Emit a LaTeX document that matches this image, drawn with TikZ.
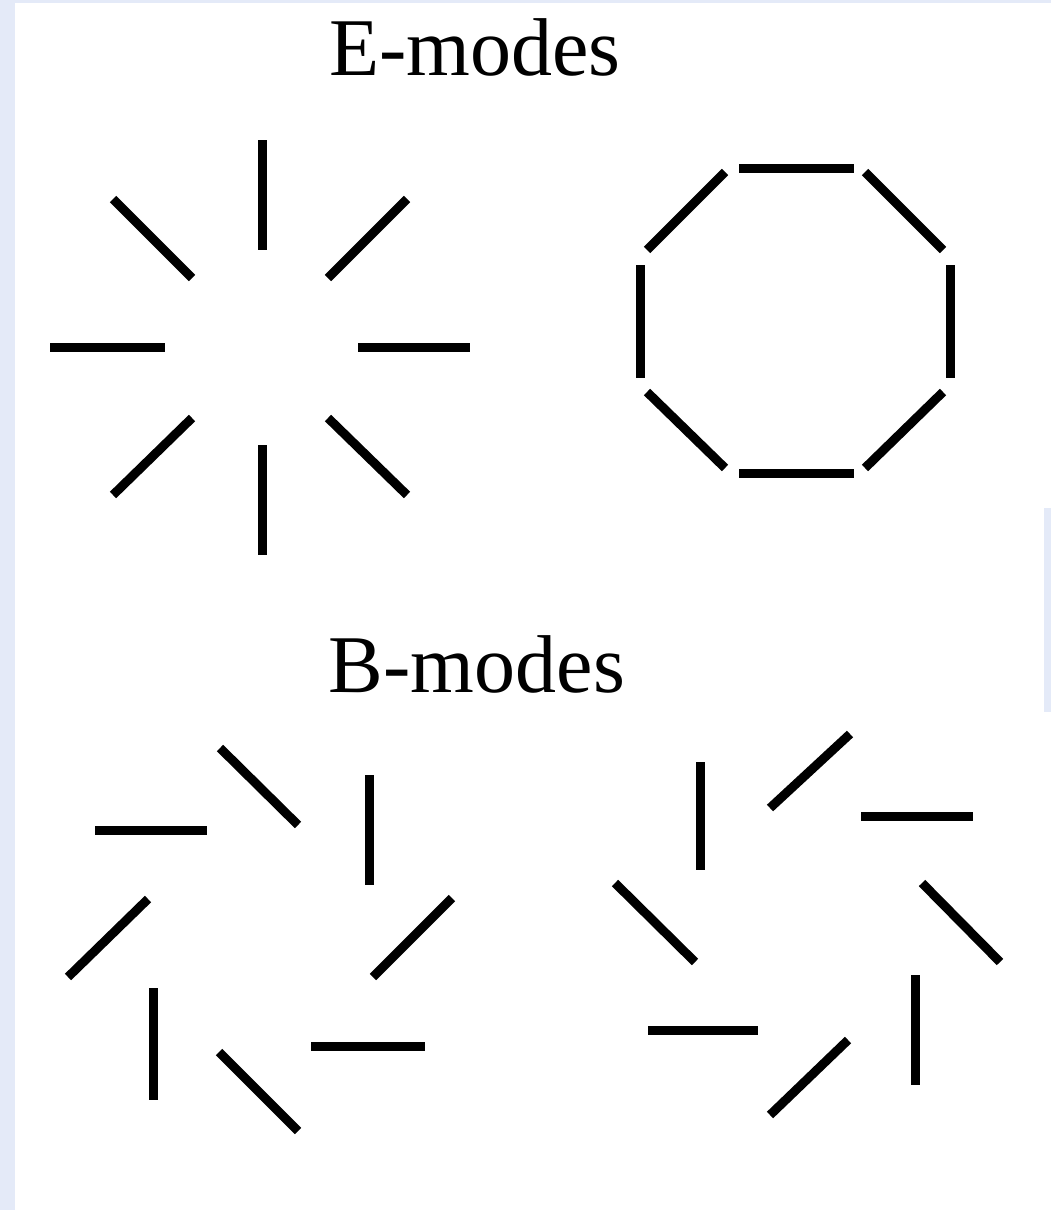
\documentclass[tikz,border=0pt]{standalone}
\usepackage{fontspec}
\setmainfont{Liberation Serif}
\definecolor{texture}{RGB}{228,234,248}
\begin{document}
\begin{tikzpicture}[x=1pt,y=-1pt,
  bar/.style={line width=9pt,line cap=butt,black},
  title/.style={anchor=base,inner sep=0pt,font=\fontsize{82}{94}\selectfont}]
\useasboundingbox (0,0) rectangle (1051,1210);
\fill[texture] (0,0) rectangle (1051,1210);
\fill[white] (15,3) rectangle (1051,1210);
\fill[texture] (1044,508) rectangle (1051,712);
% titles
\node[title] (etitle) at (475,75) {E-modes};
\node[title] (btitle) at (477,692) {B-modes};
% E-modes radial
\draw[bar] (262,140) -- (262,250);
\draw[bar] (262,445) -- (262,555);
\draw[bar] (50,347) -- (165,347);
\draw[bar] (358,347) -- (470,347);
\draw[bar] (113,199) -- (192,278);
\draw[bar] (407,199) -- (328,278);
\draw[bar] (113,495) -- (192,418);
\draw[bar] (407,495) -- (328,418);
% E-modes tangential (octagon)
\draw[bar] (739,168) -- (854,168);
\draw[bar] (739,473) -- (854,473);
\draw[bar] (640,265) -- (640,378);
\draw[bar] (950,265) -- (950,378);
\draw[bar] (725,172) -- (647,250);
\draw[bar] (865,172) -- (943,250);
\draw[bar] (647,392) -- (725,468);
\draw[bar] (943,392) -- (865,468);
% B-modes left
\draw[bar] (95,830) -- (207,830);
\draw[bar] (220,748) -- (298,825);
\draw[bar] (369,775) -- (369,885);
\draw[bar] (452,898) -- (373,977);
\draw[bar] (311,1046) -- (425,1046);
\draw[bar] (219,1052) -- (298,1131);
\draw[bar] (153,988) -- (153,1100);
\draw[bar] (148,899) -- (68,977);
% B-modes right
\draw[bar] (700,762) -- (700,870);
\draw[bar] (770,808) -- (850,734);
\draw[bar] (861,816) -- (973,816);
\draw[bar] (922,883) -- (1000,962);
\draw[bar] (915,975) -- (915,1085);
\draw[bar] (848,1040) -- (770,1115);
\draw[bar] (648,1030) -- (758,1030);
\draw[bar] (615,883) -- (695,962);
\end{tikzpicture}
\end{document}
